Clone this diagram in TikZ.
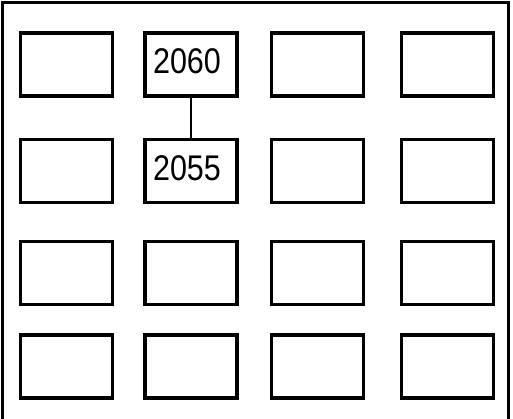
\documentclass[tikz,border=0pt]{standalone}
\usepackage{fontspec}
\setmainfont{Liberation Sans}
\begin{document}
\begin{tikzpicture}[x=1pt,y=-1pt,
  cell/.style={draw=black,line width=3.2pt,minimum width=92pt,minimum height=63pt,inner sep=0pt,fill=white},
  lbl/.style={font=\fontsize{30.5}{33}\selectfont,inner sep=0pt,anchor=center},
  frame/.style={line width=3pt,line join=miter},
  conn/.style={line width=2.5pt}]
\useasboundingbox (0,0) rectangle (513,419);
\draw[frame] (2.5,419) -- (2.5,2.5) -- (508.5,2.5) -- (508.5,419);
% columns centres: 66.5, 191, 317.5, 447.5 ; rows: 64.5, 171, 273, 366.5
\foreach \c/\x in {1/66.5,2/191,3/317.5,4/447.5}{
  \foreach \r/\y in {1/64.5,2/171,3/273,4/366.5}{
    \node[cell] (b\r\c) at (\x,\y) {};
  }
}
\draw[conn] (b12.south) -- (b22.north);
\node[lbl] (t12) at (187,61.7) {\scalebox{1}[1.17]{2060}};
\node[lbl] (t22) at (187,168.7) {\scalebox{1}[1.17]{2055}};
\end{tikzpicture}
\end{document}
